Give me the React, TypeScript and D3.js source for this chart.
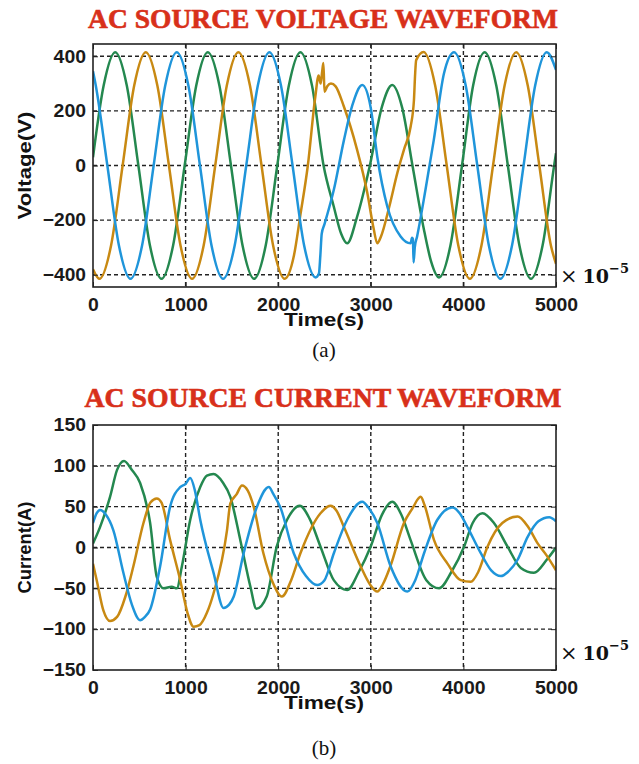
import React, { useEffect, useRef } from 'react';
import * as d3 from 'd3';

type Pt = [number, number];

const timeTicks = [0, 1000, 2000, 3000, 4000, 5000];
const voltageTicks = [-400, -200, 0, 200, 400];
const currentTicks = [-150, -100, -50, 0, 50, 100, 150];

// voltage waveforms (time in 1e-5 s, volts)
const voltGreen: Pt[] = [
  [0, 30], [115, 293], [240, 415], [365, 293], [490, 0], [615, -293], [740, -415], [865, -293],
  [990, 0], [1115, 293], [1240, 415], [1365, 293], [1490, 0], [1615, -293], [1740, -415], [1865, -293],
  [1990, 0], [2115, 293], [2240, 415], [2365, 293], [2490, 0], [2600, -150], [2680, -250], [2745, -285],
  [2850, -190], [2990, 0], [3120, 215], [3232, 295], [3340, 210], [3450, 0], [3571, -230], [3650, -350],
  [3737, -410], [3860, -293], [3985, 0], [4105, 293], [4230, 415], [4355, 293], [4480, 0], [4605, -293],
  [4730, -415], [4855, -293], [4980, 0], [5000, 45],
];
const voltOrange: Pt[] = [
  [0, -380], [70, -415], [195, -293], [320, 0], [445, 293], [570, 415], [695, 293], [820, 0],
  [945, -293], [1070, -415], [1195, -293], [1320, 0], [1445, 293], [1570, 415], [1695, 293], [1820, 0],
  [1945, -293], [2070, -415], [2170, -330], [2240, -180], [2320, 0], [2400, 250], [2437, 330], [2458, 300],
  [2475, 345], [2488, 375], [2500, 270], [2530, 290], [2570, 300], [2620, 290], [2710, 215], [2850, 60],
  [2962, -100], [3030, -230], [3070, -285], [3110, -260], [3200, -150], [3286, -28], [3360, 60], [3430, 142],
  [3466, 240], [3478, 330], [3490, 386], [3571, 416], [3695, 293], [3820, 0], [3945, -293], [4070, -415],
  [4195, -293], [4320, 0], [4445, 293], [4570, 415], [4695, 293], [4820, 0], [4945, -293], [5000, -360],
];
const voltBlue: Pt[] = [
  [0, 345], [30, 293], [155, 0], [280, -293], [405, -415], [530, -293], [655, 0], [780, 293],
  [905, 415], [1030, 293], [1155, 0], [1280, -293], [1405, -415], [1530, -293], [1655, 0], [1780, 293],
  [1905, 415], [2030, 293], [2155, 0], [2280, -293], [2405, -410], [2440, -395], [2455, -330], [2470, -250],
  [2500, -215], [2600, -90], [2710, 93], [2800, 220], [2908, 295], [3000, 210], [3070, 32], [3178, -150],
  [3322, -260], [3430, -285], [3445, -265], [3455, -270], [3462, -355], [3475, -300], [3500, -260], [3590, -90],
  [3680, 93], [3790, 337], [3900, 415], [4025, 293], [4150, 0], [4275, -293], [4400, -415], [4525, -293],
  [4650, 0], [4775, 293], [4900, 415], [5000, 350],
];

// current waveforms (amps)
const currGreen: Pt[] = [
  [0, 5], [76, 25], [184, 62], [260, 95], [335, 106], [420, 95], [509, 79], [617, 30],
  [689, -36], [762, -50], [850, -48], [905, -50], [960, -23], [1050, 34], [1158, 74], [1230, 88],
  [1302, 90], [1400, 80], [1483, 62], [1591, 9], [1700, -48], [1764, -75], [1876, -60], [1984, 1],
  [2096, 34], [2233, 51], [2340, 35], [2457, 1], [2600, -40], [2745, -52], [2870, -30], [2998, 1],
  [3120, 40], [3232, 56], [3330, 40], [3430, 9], [3600, -40], [3737, -50], [3870, -30], [4007, 1],
  [4100, 30], [4206, 42], [4330, 30], [4477, 1], [4620, -25], [4762, -31], [4900, -15], [5000, 0],
];
const currOrange: Pt[] = [
  [0, -20], [40, -40], [112, -77], [184, -90], [260, -85], [350, -60], [436, -23], [545, 30],
  [620, 55], [689, 60], [740, 55], [833, 9], [942, -40], [1020, -80], [1086, -97], [1150, -95],
  [1230, -80], [1302, -56], [1447, 21], [1483, 54], [1550, 65], [1609, 76], [1670, 70], [1735, 50],
  [1840, -7], [1950, -45], [2040, -60], [2140, -40], [2240, -7], [2457, 42], [2565, 51], [2630, 45],
  [2710, 25], [2890, -23], [2990, -45], [3070, -54], [3130, -45], [3211, -23], [3358, 30], [3466, 51],
  [3500, 58], [3539, 62], [3580, 52], [3683, 9], [3830, -20], [3971, -40], [4080, -42], [4160, -30],
  [4260, 1], [4420, 30], [4585, 38], [4700, 25], [4802, 5], [4900, -10], [5000, -28],
];
const currBlue: Pt[] = [
  [0, 30], [40, 42], [76, 46], [140, 40], [220, 21], [328, -31], [420, -70], [509, -89],
  [560, -85], [617, -76], [725, -23], [833, 50], [942, 74], [1000, 78], [1050, 85], [1100, 70],
  [1158, 34], [1302, -31], [1410, -74], [1470, -70], [1520, -60], [1627, -7], [1771, 50], [1898, 74],
  [1950, 65], [2024, 49], [2168, -7], [2300, -35], [2421, -46], [2500, -40], [2601, -7], [2745, 34],
  [2908, 56], [2980, 48], [3070, 30], [3214, -23], [3394, -54], [3480, -40], [3575, -7], [3719, 34],
  [3882, 49], [3960, 42], [4044, 25], [4188, -7], [4300, -28], [4405, -35], [4480, -30], [4585, -15],
  [4694, 13], [4810, 32], [4927, 37], [5000, 32],
];

const GREEN = '#24884f';
const ORANGE = '#c88912';
const BLUE = '#1f95da';

function drawPanel(svg: any, o: any) {
  const left = 93, right = 556;
  const x = d3.scaleLinear().domain([0, 5000]).range([left, right]);
  const y = d3.scaleLinear().domain(o.yDomain).range([o.bottom, o.top]);
  const g = svg.append('g');

  g.append('text')
    .attr('x', 323).attr('y', o.titleY)
    .attr('text-anchor', 'middle')
    .attr('font-family', 'Liberation Serif, serif').attr('font-weight', 'bold')
    .attr('font-size', 27).attr('fill', '#d8301a')
    .attr('stroke', '#d8301a').attr('stroke-width', 0.6)
    .attr('textLength', o.titleLen).attr('lengthAdjust', 'spacingAndGlyphs')
    .text(o.title);

  g.append('rect').attr('x', left).attr('y', o.top)
    .attr('width', right - left).attr('height', o.bottom - o.top).attr('fill', '#fff');

  const clipId = 'clip-' + o.id;
  g.append('clipPath').attr('id', clipId).append('rect')
    .attr('x', left).attr('y', o.top).attr('width', right - left).attr('height', o.bottom - o.top);

  const grid = g.append('g').attr('stroke', '#222').attr('stroke-width', 1.4).attr('stroke-dasharray', '4,3');
  grid.selectAll('.gx').data(timeTicks.slice(1, -1)).enter().append('line')
    .attr('x1', (d: number) => x(d)).attr('x2', (d: number) => x(d))
    .attr('y1', o.top).attr('y2', o.bottom);
  grid.selectAll('.gy').data(o.gridY).enter().append('line')
    .attr('x1', left).attr('x2', right)
    .attr('y1', (d: number) => y(d)).attr('y2', (d: number) => y(d));

  const line = d3.line<Pt>().x(d => x(d[0])).y(d => y(d[1])).curve(d3.curveMonotoneX);
  const lines = g.append('g').attr('clip-path', `url(#${clipId})`);
  o.series.forEach((s: any) => {
    lines.append('path').attr('d', line(s.data)).attr('fill', 'none')
      .attr('stroke', s.color).attr('stroke-width', 2.5).attr('stroke-linejoin', 'round');
  });

  const tickFont = (sel: any) => sel.selectAll('text')
    .attr('font-family', 'Liberation Sans, Arial, sans-serif').attr('font-weight', 'bold')
    .attr('font-size', 18).attr('fill', '#1a1a1a')
    .attr('textLength', function (this: any) {
      const t = this.textContent as string;
      let w = 0;
      for (const c of t) w += c === '-' ? 6.5 : 10.8;
      return w;
    })
    .attr('lengthAdjust', 'spacingAndGlyphs');

  const xAxis = g.append('g').attr('transform', `translate(0,${o.bottom})`)
    .call(d3.axisBottom(x).tickValues(timeTicks).tickSize(-5).tickPadding(11).tickFormat(d3.format('d')));
  xAxis.select('.domain').remove();
  xAxis.selectAll('line').attr('stroke', '#222');
  tickFont(xAxis);

  const xTop = g.append('g').attr('transform', `translate(0,${o.top})`)
    .call(d3.axisTop(x).tickValues(timeTicks).tickSize(-5).tickFormat(() => ''));
  xTop.select('.domain').remove();
  xTop.selectAll('line').attr('stroke', '#222');

  const yAxis = g.append('g').attr('transform', `translate(${left},0)`)
    .call(d3.axisLeft(y).tickValues(o.yTicks).tickSize(-5).tickPadding(7).tickFormat(d3.format('d')));
  yAxis.select('.domain').remove();
  yAxis.selectAll('line').attr('stroke', '#222');
  tickFont(yAxis);

  const yRight = g.append('g').attr('transform', `translate(${right},0)`)
    .call(d3.axisRight(y).tickValues(o.yTicks).tickSize(-5).tickFormat(() => ''));
  yRight.select('.domain').remove();
  yRight.selectAll('line').attr('stroke', '#222');

  g.append('rect').attr('x', left).attr('y', o.top)
    .attr('width', right - left).attr('height', o.bottom - o.top)
    .attr('fill', 'none').attr('stroke', '#222').attr('stroke-width', 1.6);

  g.append('text')
    .attr('x', 324).attr('y', o.bottom + 39)
    .attr('text-anchor', 'middle')
    .attr('font-family', 'Liberation Sans, Arial, sans-serif').attr('font-weight', 'bold')
    .attr('font-size', 18).attr('fill', '#111')
    .attr('textLength', 80).attr('lengthAdjust', 'spacingAndGlyphs')
    .text('Time(s)');

  g.append('text')
    .attr('transform', `translate(31,${(o.top + o.bottom) / 2}) rotate(-90)`)
    .attr('text-anchor', 'middle')
    .attr('font-family', 'Liberation Sans, Arial, sans-serif').attr('font-weight', 'bold')
    .attr('font-size', 18).attr('fill', '#111')
    .attr('textLength', o.yLabelLen).attr('lengthAdjust', 'spacingAndGlyphs')
    .text(o.yLabel);

  const exp = g.append('text')
    .attr('x', 560).attr('y', o.expY)
    .attr('font-family', 'DejaVu Serif, serif')
    .attr('font-weight', 'bold')
    .attr('font-size', 19).attr('fill', '#111');
  exp.append('tspan').attr('font-weight', 'normal').attr('font-size', 21).text('×');
  exp.append('tspan').attr('dx', 5).text('10');
  exp.append('tspan').attr('dy', -10).attr('font-size', 13).text('−5');

  g.append('text')
    .attr('x', 324).attr('y', o.captionY)
    .attr('text-anchor', 'middle')
    .attr('font-family', 'Liberation Serif, serif')
    .attr('font-size', 21).attr('fill', '#111')
    .text(o.caption);
}

export default function App() {
  const svgRef = useRef<SVGSVGElement>(null);

  useEffect(() => {
    const svg = d3.select(svgRef.current);
    svg.selectAll('*').remove();

    drawPanel(svg, {
      id: 'volt', top: 44, bottom: 287, yDomain: [-445, 445],
      yTicks: voltageTicks, gridY: voltageTicks,
      title: 'AC SOURCE VOLTAGE WAVEFORM', titleY: 28, titleLen: 470,
      yLabel: 'Voltage(V)', yLabelLen: 108,
      expY: 283, caption: '(a)', captionY: 357,
      series: [
        { data: voltGreen, color: GREEN },
        { data: voltOrange, color: ORANGE },
        { data: voltBlue, color: BLUE },
      ],
    });

    drawPanel(svg, {
      id: 'curr', top: 425, bottom: 670, yDomain: [-150, 150],
      yTicks: currentTicks, gridY: [-100, -50, 0, 50, 100],
      title: 'AC SOURCE CURRENT WAVEFORM', titleY: 407, titleLen: 477,
      yLabel: 'Current(A)', yLabelLen: 92,
      expY: 660, caption: '(b)', captionY: 755,
      series: [
        { data: currGreen, color: GREEN },
        { data: currOrange, color: ORANGE },
        { data: currBlue, color: BLUE },
      ],
    });
  }, []);

  return (
    <svg ref={svgRef} width={639} height={764}
      style={{ position: 'absolute', left: 0, top: 0, background: '#fff' }} />
  );
}
